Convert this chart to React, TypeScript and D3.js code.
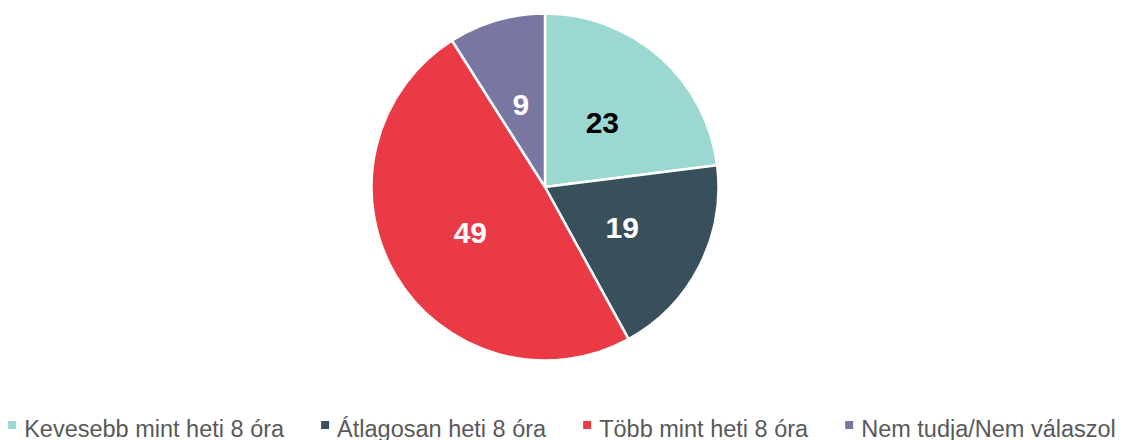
import React, { useEffect, useRef } from "react";
import * as d3 from "d3";

const categories = [
  "Kevesebb mint heti 8 óra",
  "Átlagosan heti 8 óra",
  "Több mint heti 8 óra",
  "Nem tudja/Nem válaszol",
];
const values = [23, 19, 49, 9];
const colors = ["#9bd8d2", "#37505c", "#e93a45", "#7877a2"];
const labelColors = ["#000000", "#ffffff", "#ffffff", "#ffffff"];

const W = 1123;
const H = 440;

export default function App() {
  const ref = useRef<SVGSVGElement | null>(null);

  useEffect(() => {
    const svg = d3.select(ref.current);
    svg.selectAll("*").remove();

    const cx = 545;
    const cy = 187;
    const r = 173.5;

    const pie = d3.pie<number>().sort(null).value((d) => d);
    const arcs = pie(values);
    const arc = d3.arc<d3.PieArcDatum<number>>().innerRadius(0).outerRadius(r);
    const labelArc = d3.arc<d3.PieArcDatum<number>>().innerRadius(r * 0.5).outerRadius(r * 0.5);

    const g = svg.append("g").attr("transform", `translate(${cx},${cy})`);
    g.selectAll("path")
      .data(arcs)
      .enter()
      .append("path")
      .attr("d", arc as any)
      .attr("fill", (_, i) => colors[i])
      .attr("stroke", "#ffffff")
      .attr("stroke-width", 2.5)
      .attr("stroke-linejoin", "round");

    g.selectAll("text.lbl")
      .data(arcs)
      .enter()
      .append("text")
      .attr("class", "lbl")
      .attr("transform", (d) => {
        const [x, y] = labelArc.centroid(d);
        return `translate(${x},${y + 1})`;
      })
      .attr("text-anchor", "middle")
      .attr("dominant-baseline", "central")
      .attr("font-family", "Liberation Sans, Arial, sans-serif")
      .attr("font-weight", "bold")
      .attr("font-size", 30)
      .attr("fill", (_, i) => labelColors[i])
      .text((d) => String(d.data));

    // Legend
    const legend = svg.append("g");
    const fontSize = 23.5;
    const sq = 8;
    const sqGap = 8;
    const itemGap = 37;
    const baseline = 436.5;
    const items = categories.map((c, i) => {
      const it = legend.append("g");
      it.append("rect")
        .attr("width", sq)
        .attr("height", sq)
        .attr("y", 421)
        .attr("fill", colors[i]);
      const t = it
        .append("text")
        .attr("x", sq + sqGap)
        .attr("y", baseline)
        .attr("font-family", "Liberation Sans, Arial, sans-serif")
        .attr("font-size", fontSize)
        .attr("fill", "#595959")
        .text(c);
      const w = (t.node() as SVGTextElement).getComputedTextLength();
      return { it, w: sq + sqGap + w };
    });
    const total = items.reduce((s, d) => s + d.w, 0) + itemGap * (items.length - 1);
    let x = 562 - total / 2;
    items.forEach((d) => {
      d.it.attr("transform", `translate(${x},0)`);
      x += d.w + itemGap;
    });
  }, []);

  return (
    <svg
      ref={ref}
      width={W}
      height={H}
      style={{ position: "absolute", left: 0, top: 0, background: "#fff" }}
    />
  );
}
